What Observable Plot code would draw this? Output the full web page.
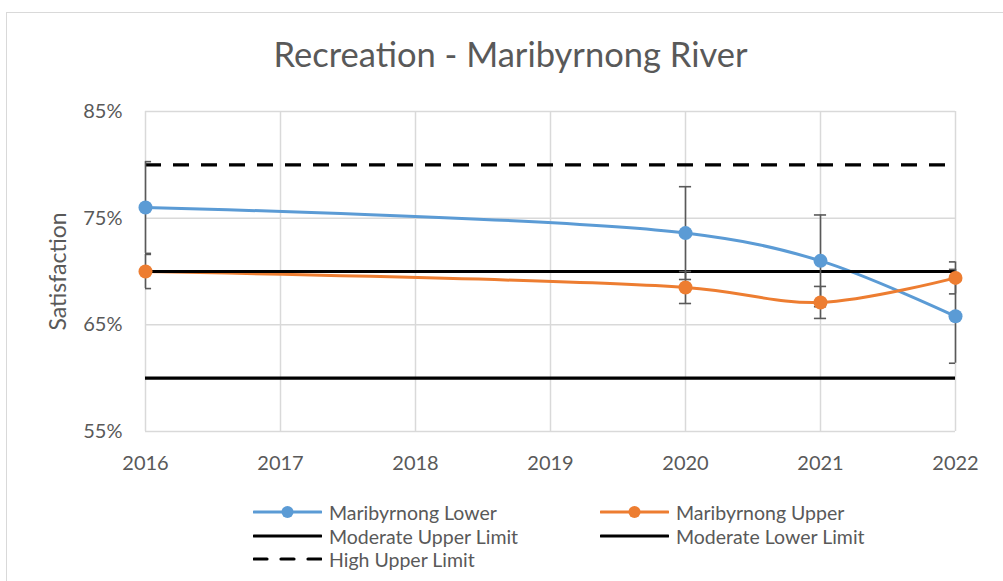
<!DOCTYPE html>
<html>
<head>
<meta charset="utf-8">
<script src="https://cdn.jsdelivr.net/npm/d3@7"></script>
<script src="https://cdn.jsdelivr.net/npm/@observablehq/plot@0.6"></script>
<style>
  html, body { margin: 0; padding: 0; background: #fff; }
  #wrap { position: relative; width: 1003px; height: 581px; overflow: hidden; font-family: Lato, "Open Sans", sans-serif; color: #595959; }
  #border { position: absolute; left: 6px; top: 12px; width: 1100px; height: 700px; border: 1.5px solid #d9d9d9; box-sizing: border-box; }
  #title { position: absolute; left: 0; width: 1021px; top: 32.6px; text-align: center; font-size: 34.5px; line-height: 41.4px; color: #595959; }
  #chart { position: absolute; left: 0; top: 0; }
  .leg { position: absolute; display: flex; align-items: center; font-size: 19.5px; color: #595959; white-space: nowrap; }
  .leg svg { margin-right: 7px; }
</style>
</head>
<body>
<div id="wrap">
  <div id="border"></div>
  <div id="chart"></div>
  <div id="title">Recreation - Maribyrnong River</div>
  <div id="legend"></div>
</div>
<script>
// ---- data ----
const years = [2016, 2020, 2021, 2022];
const lowerValues = [0.760, 0.736, 0.710, 0.658];
const lowerErrors = [0.043, 0.0435, 0.043, 0.044];
const upperValues = [0.700, 0.685, 0.671, 0.694];
const upperErrors = [0.016, 0.015, 0.015, 0.015];
const xTicks = [2016, 2017, 2018, 2019, 2020, 2021, 2022];
const yTicks = [0.55, 0.65, 0.75, 0.85];
const moderateUpperLimit = 0.70;
const moderateLowerLimit = 0.60;
const highUpperLimit = 0.80;
const seriesNames = ["Maribyrnong Lower", "Maribyrnong Upper"];
const seriesColors = ["#5b9bd5", "#ed7d31"];

const rows = [];
years.forEach((yr, i) => {
  rows.push({series: seriesNames[0], year: yr, value: lowerValues[i], err: lowerErrors[i]});
  rows.push({series: seriesNames[1], year: yr, value: upperValues[i], err: upperErrors[i]});
});
const color = d => seriesColors[seriesNames.indexOf(d.series)];
const capHalf = 0.045; // in years

const chart = Plot.plot({
  width: 1003,
  height: 581,
  marginLeft: 145,
  marginRight: 48,
  marginTop: 111,
  marginBottom: 150,
  style: {fontFamily: "Lato, 'Open Sans', sans-serif", color: "#595959", background: "transparent"},
  x: {type: "linear", domain: [2016, 2022], ticks: xTicks},
  y: {domain: [0.55, 0.85], ticks: yTicks},
  marks: [
    Plot.ruleX(xTicks, {stroke: "#d9d9d9", strokeWidth: 1.5}),
    Plot.ruleY(yTicks, {stroke: "#d9d9d9", strokeWidth: 1.5}),
    Plot.axisX({ticks: xTicks, tickSize: 0, tickPadding: 24, fontSize: 20, tickFormat: d => String(d), label: null, fill: "#595959"}),
    Plot.axisY({ticks: yTicks, tickSize: 0, tickPadding: 23, fontSize: 20, tickFormat: d3.format(".0%"), label: null, fill: "#595959"}),
    Plot.text(["Satisfaction"], {frameAnchor: "left", dx: -87, rotate: -90, textAnchor: "middle", lineAnchor: "middle", fontSize: 23, fill: "#595959", text: d => d}),
    // series lines
    Plot.line(rows, {x: "year", y: "value", z: "series", stroke: color, strokeWidth: 3, curve: "catmull-rom"}),
    // limit lines
    Plot.ruleY([moderateUpperLimit], {stroke: "#000", strokeWidth: 3.2}),
    Plot.ruleY([moderateLowerLimit], {stroke: "#000", strokeWidth: 3.2}),
    Plot.ruleY([highUpperLimit], {stroke: "#000", strokeWidth: 3.2, strokeDasharray: "16,12"}),
    // error bars
    Plot.ruleX(rows, {x: "year", y1: d => d.value - d.err, y2: d => d.value + d.err, stroke: "#595959", strokeWidth: 1.6}),
    Plot.ruleY(rows, {y: d => d.value - d.err, x1: d => d.year - capHalf, x2: d => d.year + capHalf, stroke: "#595959", strokeWidth: 1.6, clip: true}),
    Plot.ruleY(rows, {y: d => d.value + d.err, x1: d => d.year - capHalf, x2: d => d.year + capHalf, stroke: "#595959", strokeWidth: 1.6, clip: true}),
    // markers
    Plot.dot(rows, {x: "year", y: "value", r: 7, fill: color, stroke: "none"})
  ]
});
document.getElementById("chart").appendChild(chart);

// ---- legend ----
const legendItems = [
  {label: seriesNames[0], color: seriesColors[0], marker: true, dash: null, x: 253, y: 512},
  {label: seriesNames[1], color: seriesColors[1], marker: true, dash: null, x: 600, y: 512},
  {label: "Moderate Upper Limit", color: "#000", marker: false, dash: null, x: 253, y: 536},
  {label: "Moderate Lower Limit", color: "#000", marker: false, dash: null, x: 600, y: 536},
  {label: "High Upper Limit", color: "#000", marker: false, dash: "13,14", x: 253, y: 559}
];
const legend = document.getElementById("legend");
legendItems.forEach(it => {
  const div = document.createElement("div");
  div.className = "leg";
  div.style.left = it.x + "px";
  div.style.top = (it.y - 12) + "px";
  div.style.height = "24px";
  const w = 69;
  div.innerHTML =
    `<svg width="${w}" height="16" viewBox="0 0 ${w} 16">` +
    `<line x1="1" y1="8" x2="${w - 1}" y2="8" stroke="${it.color}" stroke-width="3.2" stroke-linecap="round"` +
    (it.dash ? ` stroke-dasharray="${it.dash}"` : "") + `/>` +
    (it.marker ? `<circle cx="${w / 2}" cy="8" r="6" fill="${it.color}"/>` : "") +
    `</svg><span>${it.label}</span>`;
  legend.appendChild(div);
});
</script>
</body>
</html>
